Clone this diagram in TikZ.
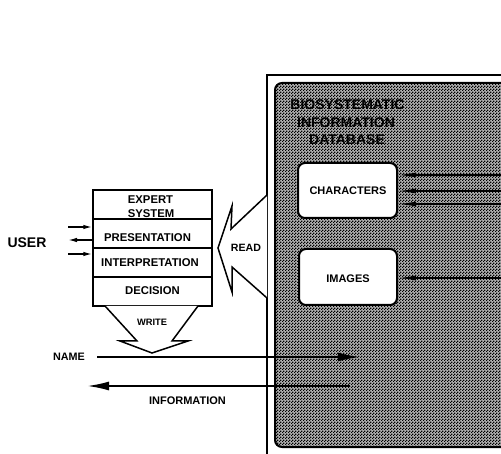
\documentclass[tikz,border=0pt]{standalone}
\usepackage{fontspec}
\setmainfont{Liberation Sans}
\usetikzlibrary{arrows.meta,patterns.meta}
\tikzdeclarepattern{name=dither, type=uncolored,
  bottom left={(0pt,0pt)}, top right={(3pt,3pt)}, tile size={(3pt,3pt)},
  code={\fill (0pt,0pt) rectangle (1.6pt,1.6pt); \fill (1.5pt,1.5pt) rectangle (3pt,3pt);}}
\newcommand\myfs[1]{\fontsize{#1}{#1}\selectfont}
\begin{document}
\begin{tikzpicture}[x=1pt,y=-1pt,
  lbl/.style n args={2}{inner sep=0pt, text depth=0pt, text height=#2, font=\bfseries\myfs{#1}},
  rowbox/.style={draw, line width=1.4pt, minimum width=119pt, minimum height=29pt, inner sep=0pt},
  dbbox/.style={draw, line width=2pt, fill=white, rounded corners=7pt, inner sep=0pt},
  hollow/.style={draw, line width=1.5pt, fill=white, line join=miter},
  smallarr/.style={line width=1.4pt, -{Latex[length=9pt,width=4.5pt]}},
  dbarr/.style={line width=1.3pt, -{Latex[length=18pt,width=5pt]}},
  bigarr/.style={line width=2pt, -{Latex[length=22pt,width=9pt]}}]
\useasboundingbox (0,0) rectangle (501,454);
\clip (0,0) rectangle (501,454);
% database frame
\draw[line width=2.5pt] (267,470) -- (267,75) -- (520,75);
\fill[black!30, rounded corners=7pt] (275,447) rectangle (530,83);
\draw[line width=2pt, rounded corners=7pt, pattern=dither] (275,447) rectangle (530,83);
% title
\node[lbl={14}{10pt}] (t1) at (347.5,105) {BIOSYSTEMATIC};
\node[lbl={14}{10pt}] (t2) at (346,122.5) {INFORMATION};
\node[lbl={14}{10pt}] (t3) at (347,140) {DATABASE};
% database boxes
\node[dbbox, minimum width=99pt, minimum height=55pt] (char) at (347.5,190.5) {};
\node[lbl={11}{7.9pt}] (charl) at (348,191) {CHARACTERS};
\node[dbbox, minimum width=98pt, minimum height=56pt] (img) at (348,277) {};
\node[lbl={11}{7.9pt}] (imgl) at (348,279) {IMAGES};
\coordinate (c1) at (505,175);
\coordinate (c2) at (505,191);
\coordinate (c3) at (505,204);
\coordinate (c4) at (505,278);
\draw[dbarr] (c1) -- (char.east |- c1);
\draw[dbarr] (c2) -- (char.east |- c2);
\draw[dbarr] (c3) -- (char.east |- c3);
\draw[dbarr] (c4) -- (img.east |- c4);
% expert system stack
\node[rowbox] (r1) at (152.5,204.5) {};
\node[rowbox] (r2) at (152.5,233.5) {};
\node[rowbox] (r3) at (152.5,262.5) {};
\node[rowbox] (r4) at (152.5,291.5) {};
\node[lbl={11.3}{8.1pt}] (l1a) at (150.5,199) {EXPERT};
\node[lbl={11.3}{8.1pt}] (l1b) at (151,213) {SYSTEM};
\node[lbl={11.3}{8.1pt}] (l2) at (147.5,237) {PRESENTATION};
\node[lbl={11.3}{8.1pt}] (l3) at (150,262) {INTERPRETATION};
\node[lbl={11.3}{8.1pt}] (l4) at (152.5,290) {DECISION};
% user
\node[lbl={14}{10pt}] (user) at (27,243) {USER};
\coordinate (u1) at (68,227);
\coordinate (u2) at (68,240);
\coordinate (u3) at (68,254);
\draw[smallarr] (u1) -- (r2.west |- u1);
\draw[smallarr] (r2.west |- u2) -- (u2);
\draw[smallarr] (u3) -- (r3.west |- u3);
% READ arrow
\path[hollow] (267,195) -- (231,229) -- (232,206) -- (218,248) -- (232,292) -- (232,267) -- (267,298);
\node[lbl={10.6}{7.6pt}] (read) at (246,248) {READ};
% WRITE arrow
\path[hollow] (105,306) -- (137,341) -- (120,341) -- (152,353) -- (188,341) -- (172,341) -- (198,306);
\node[lbl={9.3}{6.7pt}] (write) at (152,322) {WRITE};
% NAME / INFORMATION
\node[lbl={10.8}{7.8pt}] (name) at (69,357) {NAME};
\coordinate (n1) at (97,357);
\coordinate (n2) at (360,357);
\draw[bigarr] (n1) -- (n2);
\coordinate (i1) at (350,386);
\coordinate (i2) at (87,386);
\draw[bigarr] (i1) -- (i2);
\node[lbl={11}{7.9pt}] (info) at (187.5,401) {INFORMATION};
\end{tikzpicture}
\end{document}
